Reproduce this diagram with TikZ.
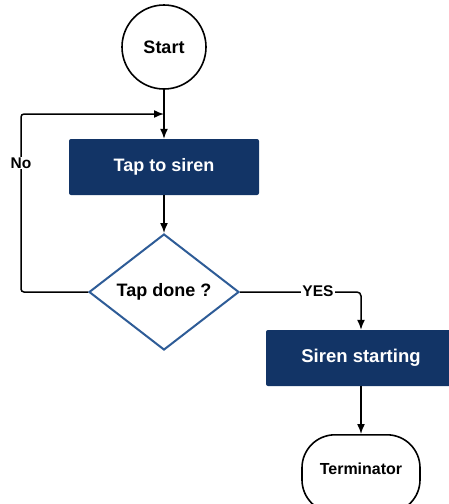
\documentclass[tikz,border=0pt]{standalone}
\usepackage{fontspec}
\setmainfont{Liberation Sans}
\usetikzlibrary{shapes.geometric,arrows.meta}
\definecolor{myboxcolor}{HTML}{123466}
\definecolor{mydiamondcolor}{HTML}{2E5C97}
\tikzset{
  startnode/.style={draw, line width=1.6pt, circle, minimum size=84pt, inner sep=0pt},
  procbox/.style={fill=myboxcolor, rounded corners=2pt, rectangle, minimum width=190pt, minimum height=56pt, text=white},
  decision/.style={draw=mydiamondcolor, line width=2pt, diamond, fill=white, minimum width=150pt, minimum height=116pt, inner sep=0pt},
  endnode/.style={draw, line width=1.6pt, rectangle, rounded corners=33pt, minimum width=118pt, minimum height=78pt, text depth=10pt},
  flow/.style={draw, line width=1.5pt, -{Latex[length=10pt,width=8pt]}},
  flowlabel/.style={fill=white, inner sep=1pt},
}

\begin{document}
\begin{tikzpicture}[x=1pt, y=-1pt]%
\path[use as bounding box, clip] (0,0) rectangle (449,504);%
\node[startnode] (start) at (164, 47) {\fontsize{18pt}{18pt}\selectfont\bfseries Start};%
\node[procbox] (tap) at (164, 167) {\fontsize{18pt}{18pt}\selectfont\bfseries Tap to siren};%
\node[decision] (tapdone) at (164, 292) {\fontsize{18pt}{18pt}\selectfont\bfseries Tap done ?};%
\node[procbox] (siren) at (361, 358) {\fontsize{18.5pt}{18.5pt}\selectfont\bfseries Siren starting};%
\node[endnode, anchor=north] (term) at (361, 434) {\fontsize{16pt}{16pt}\selectfont\bfseries Terminator};%
\coordinate (loopcorner) at (21, 114);%
\coordinate (loopin) at (164, 114);%
\draw[flow] (start.south) -- (tap.north);%
\draw[flow] (tap.south) -- (tapdone.north);%
\draw[flow, rounded corners=3pt] (tapdone.west) -| (loopcorner) -- (loopin);%
\draw[flow, rounded corners=4pt] (tapdone.east) -| (siren.north);%
\draw[flow] (siren.south) -- (term.north);%
\node[flowlabel] (no) at (21, 163) {\fontsize{15.5pt}{15.5pt}\selectfont\bfseries No};%
\node[flowlabel] (yes) at (318, 291) {\fontsize{15.5pt}{15.5pt}\selectfont\bfseries YES};%
\end{tikzpicture}
\end{document}
